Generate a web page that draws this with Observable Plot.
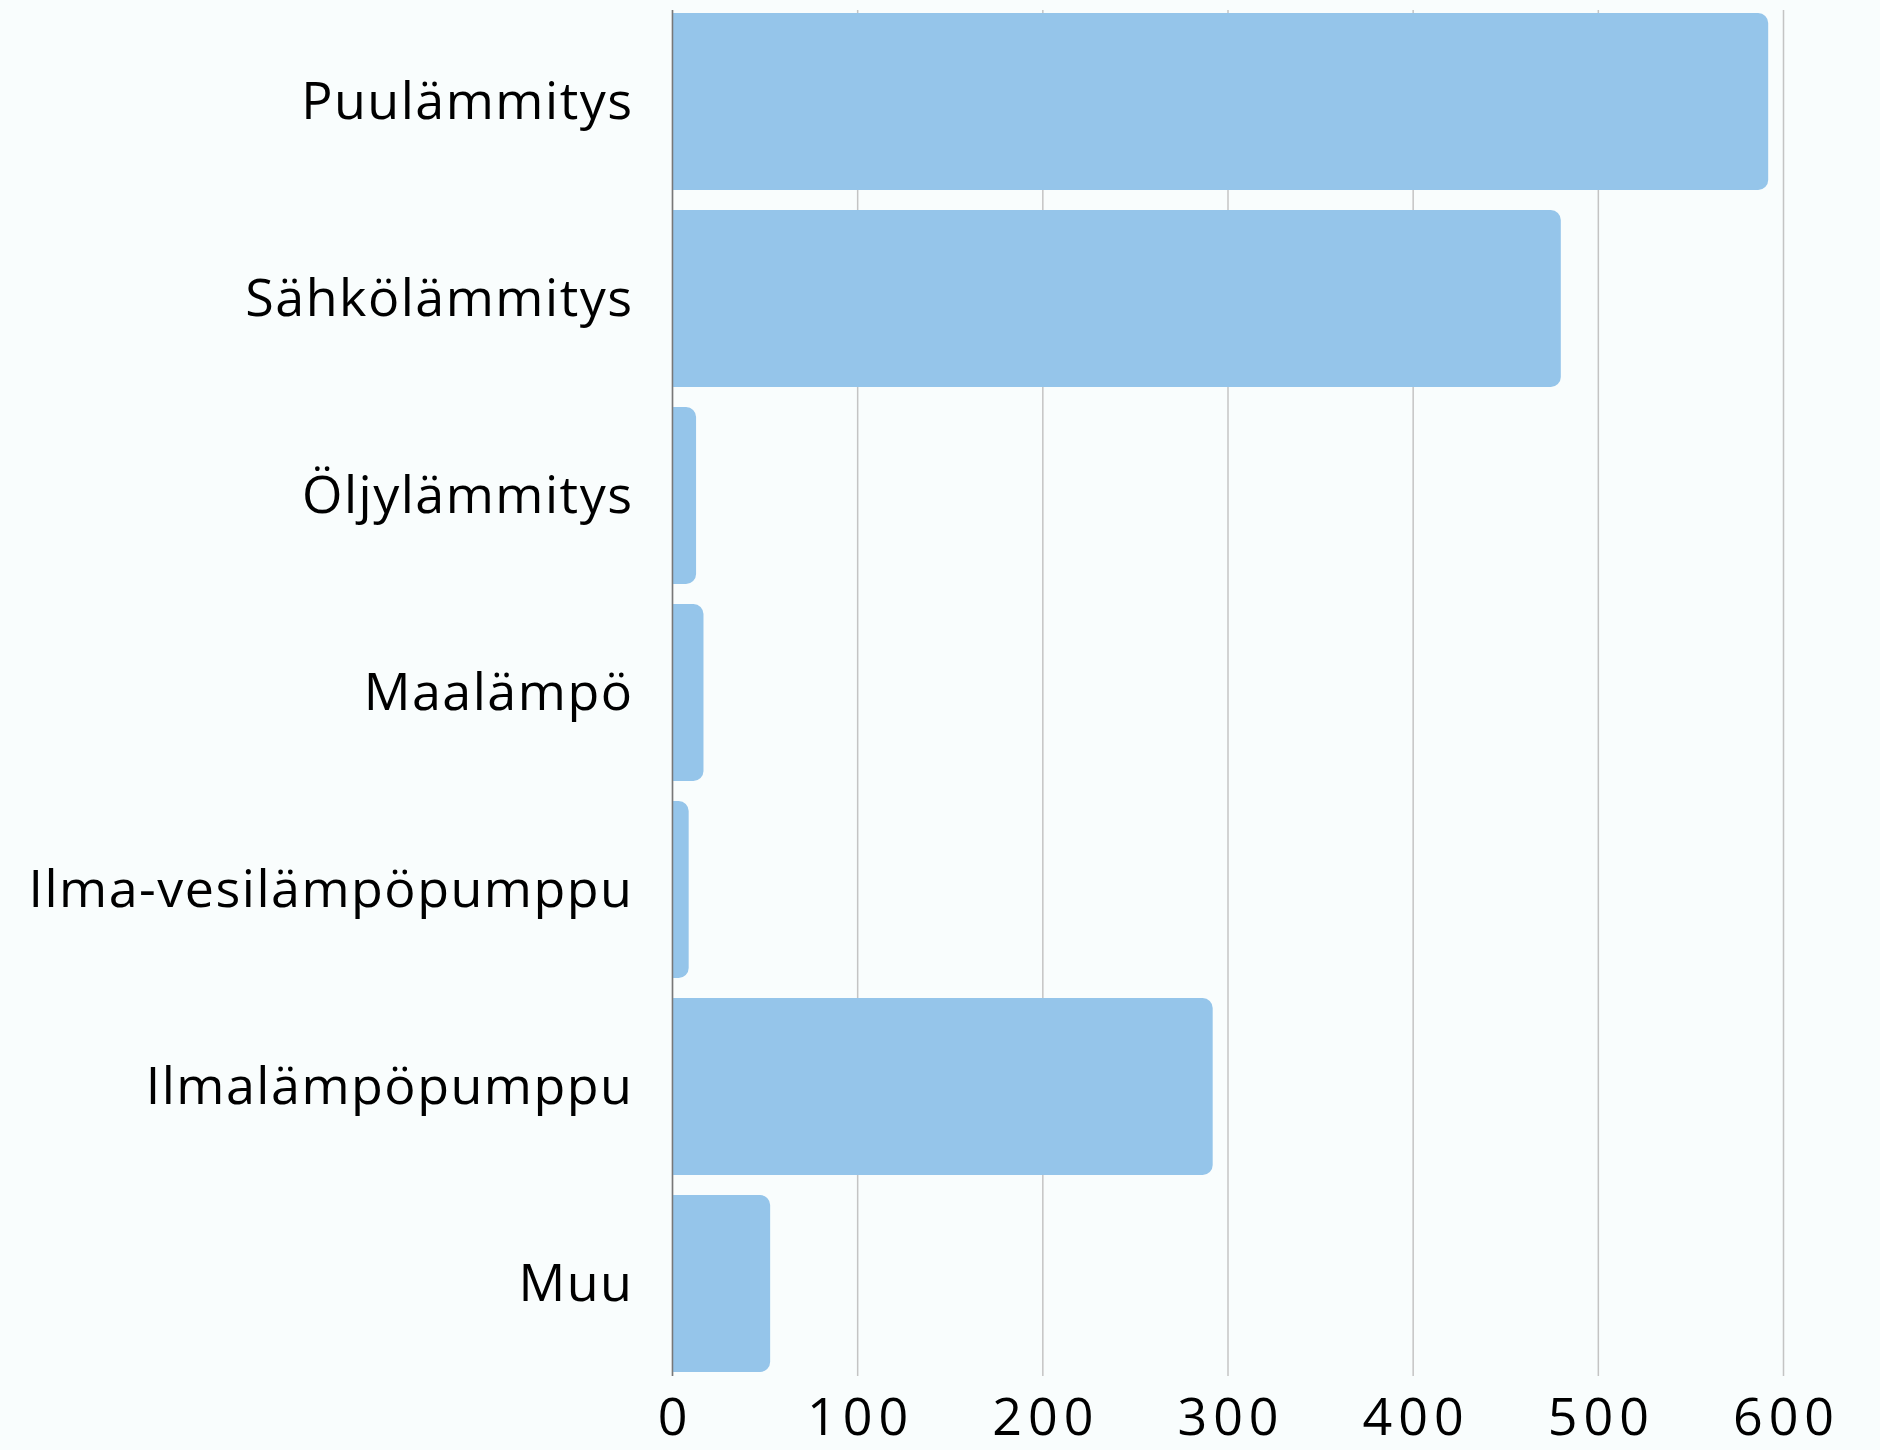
<!DOCTYPE html>
<html>
<head>
<meta charset="utf-8">
<script src="https://cdn.jsdelivr.net/npm/d3@7"></script>
<script src="https://cdn.jsdelivr.net/npm/@observablehq/plot@0.6"></script>
<style>
  html, body { margin: 0; padding: 0; background: #f9fdfd; }
  svg g[aria-label="x-axis tick label"] text { letter-spacing: 6px; }
  svg g[aria-label="y-axis tick label"] text { letter-spacing: 1.5px; }
</style>
</head>
<body>
<div id="chart"></div>
<script>
const categories = ["Puulämmitys", "Sähkölämmitys", "Öljylämmitys", "Maalämpö", "Ilma-vesilämpöpumppu", "Ilmalämpöpumppu", "Muu"];
const values = [592, 480, 13, 17, 9, 292, 53];
const xTicks = [0, 100, 200, 300, 400, 500, 600];

const data = categories.map((c, i) => ({category: c, value: values[i]}));

const chart = Plot.plot({
  width: 1880,
  height: 1450,
  marginLeft: 672,
  marginRight: 97,
  marginTop: 10,
  marginBottom: 74,
  style: {background: "#f9fdfd", fontFamily: "'Open Sans', sans-serif", fontSize: "52px", color: "#000"},
  x: {domain: [0, 600], ticks: xTicks},
  y: {domain: categories, paddingInner: 0.1, paddingOuter: 0},
  marks: [
    Plot.gridX(xTicks, {stroke: "#c4c4c4", strokeOpacity: 1, strokeWidth: 1.5}),
    Plot.barX(data, {x: "value", y: "category", fill: "#95c5ea", rx2: 10}),
    Plot.ruleX([0], {stroke: "#777", strokeWidth: 1.5}),
    Plot.axisX({ticks: xTicks, tickSize: 0, tickPadding: 22, dx: 3, label: null, fontSize: 52}),
    Plot.axisY({tickSize: 0, tickPadding: 39, label: null, fontSize: 52})
  ]
});
document.getElementById("chart").appendChild(chart);
</script>
</body>
</html>
